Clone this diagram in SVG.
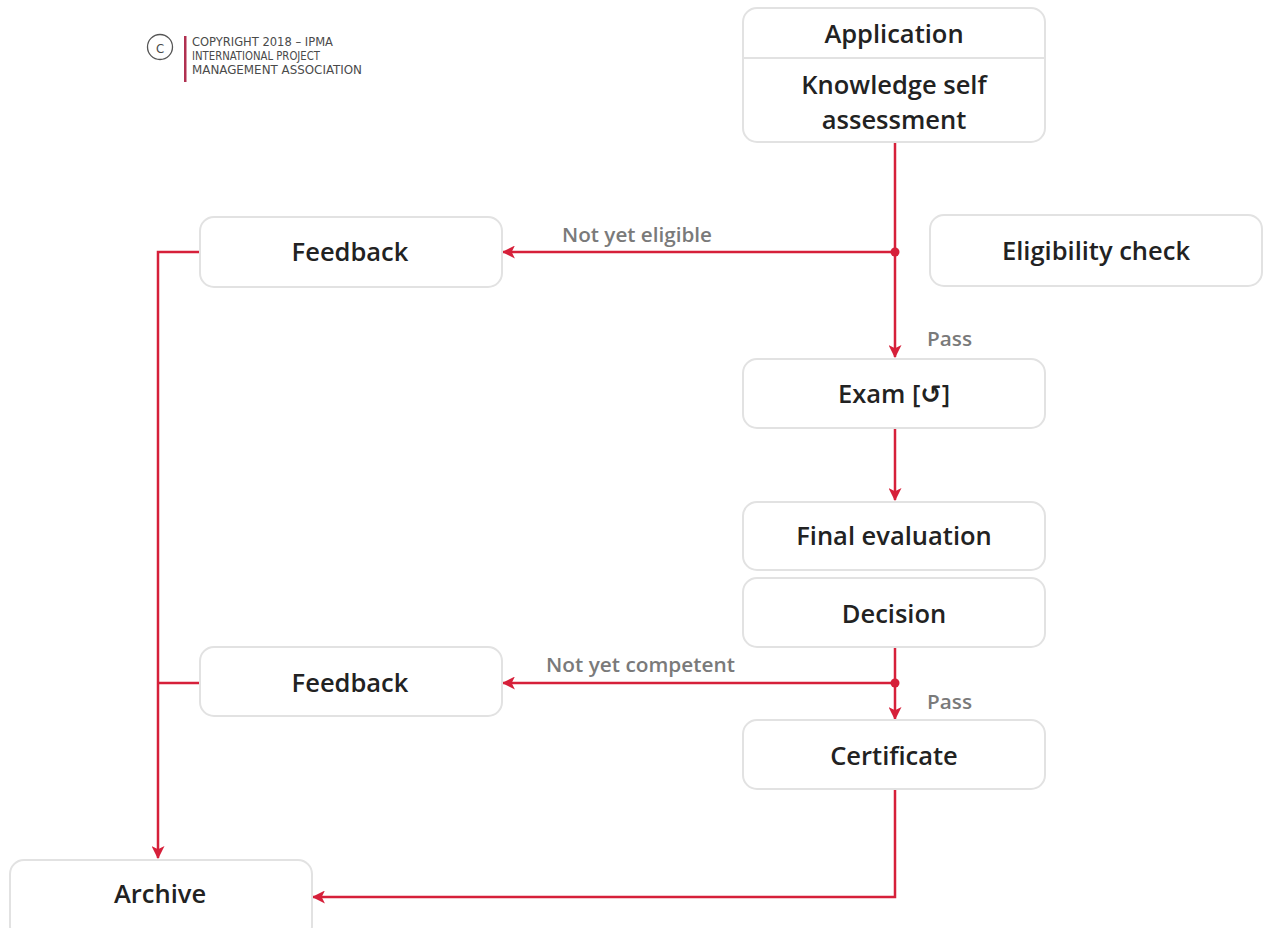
<svg xmlns="http://www.w3.org/2000/svg" width="1264" height="928" viewBox="0 0 1264 928">
<defs>
<marker id="ah" viewBox="0 0 12 12" refX="11" refY="6" markerWidth="13" markerHeight="13" markerUnits="userSpaceOnUse" orient="auto">
<path d="M0,0 L12,6 L0,12 L3,6 Z" fill="#d6203a"/>
</marker>
<style>
.box{fill:#fff;stroke:#e2e2e2;stroke-width:2}
.t{font-family:"Open Sans","DejaVu Sans",sans-serif;font-weight:600;font-size:25.5px;fill:#222;text-anchor:middle}
.lbl{font-family:"Open Sans","DejaVu Sans",sans-serif;font-weight:600;font-size:19px;fill:#7a7a7a}
.c{fill:none;stroke:#d6203a;stroke-width:2.5}
.cp{font-family:"DejaVu Sans Condensed","DejaVu Sans",sans-serif;font-size:13px;fill:#4a4a4a}
</style>
</defs>
<rect width="1264" height="928" fill="#fff"/>
<g id="copyright">
<circle cx="160" cy="47" r="12.5" fill="none" stroke="#555" stroke-width="1.3"/>
<text x="160" y="53" class="cp" text-anchor="middle" font-size="16">C</text>
<rect x="184" y="36" width="2.5" height="46" fill="#b03050"/>
<text x="192" y="46" class="cp" textLength="141" lengthAdjust="spacingAndGlyphs">COPYRIGHT 2018 – IPMA</text>
<text x="192" y="60" class="cp" textLength="128" lengthAdjust="spacingAndGlyphs">INTERNATIONAL PROJECT</text>
<text x="192" y="74" class="cp" textLength="170" lengthAdjust="spacingAndGlyphs">MANAGEMENT ASSOCIATION</text>
</g>
<g id="connectors">
<path class="c" d="M895,142 V357" marker-end="url(#ah)"/>
<path class="c" d="M895,252 H503" marker-end="url(#ah)"/>
<path class="c" d="M895,428 V500" marker-end="url(#ah)"/>
<path class="c" d="M895,647 V719" marker-end="url(#ah)"/>
<path class="c" d="M895,683 H503" marker-end="url(#ah)"/>
<path class="c" d="M895,789 V897 H313" marker-end="url(#ah)"/>
<path class="c" d="M200,252 H158 V858" marker-end="url(#ah)"/>
<path class="c" d="M200,683 H158"/>
<circle cx="895" cy="252" r="4.5" fill="#d6203a"/>
<circle cx="895" cy="683" r="4.5" fill="#d6203a"/>
<text x="562" y="242" class="lbl" textLength="150" lengthAdjust="spacingAndGlyphs">Not yet eligible</text>
<text x="927" y="346" class="lbl" textLength="45" lengthAdjust="spacingAndGlyphs">Pass</text>
<text x="546" y="672" class="lbl" textLength="189" lengthAdjust="spacingAndGlyphs">Not yet competent</text>
<text x="927" y="709" class="lbl" textLength="45" lengthAdjust="spacingAndGlyphs">Pass</text>
</g>
<g id="application">
<rect class="box" x="743" y="8" width="302" height="134" rx="14"/>
<line x1="744" y1="58" x2="1044" y2="58" stroke="#e2e2e2" stroke-width="2"/>
<text class="t" x="894" y="43">Application</text>
<text class="t" x="894" y="94" font-size="25">Knowledge self</text>
<text class="t" x="894" y="128.5" font-size="25">assessment</text>
</g>
<g id="feedback1">
<rect class="box" x="200" y="217" width="302" height="70" rx="14"/>
<text class="t" x="350" y="261">Feedback</text>
</g>
<g id="eligibility">
<rect class="box" x="930" y="215" width="332" height="71" rx="14"/>
<text class="t" x="1096" y="260">Eligibility check</text>
</g>
<g id="exam">
<rect class="box" x="743" y="359" width="302" height="69" rx="14"/>
<text class="t" x="894" y="403">Exam [↺]</text>
</g>
<g id="final">
<rect class="box" x="743" y="502" width="302" height="68" rx="14"/>
<text class="t" x="894" y="545">Final evaluation</text>
</g>
<g id="decision">
<rect class="box" x="743" y="578" width="302" height="69" rx="14"/>
<text class="t" x="894" y="623">Decision</text>
</g>
<g id="feedback2">
<rect class="box" x="200" y="647" width="302" height="69" rx="14"/>
<text class="t" x="350" y="692">Feedback</text>
</g>
<g id="certificate">
<rect class="box" x="743" y="720" width="302" height="69" rx="14"/>
<text class="t" x="894" y="765">Certificate</text>
</g>
<g id="archive">
<rect class="box" x="10" y="860" width="302" height="80" rx="14"/>
<text class="t" x="160" y="903">Archive</text>
</g>
</svg>
